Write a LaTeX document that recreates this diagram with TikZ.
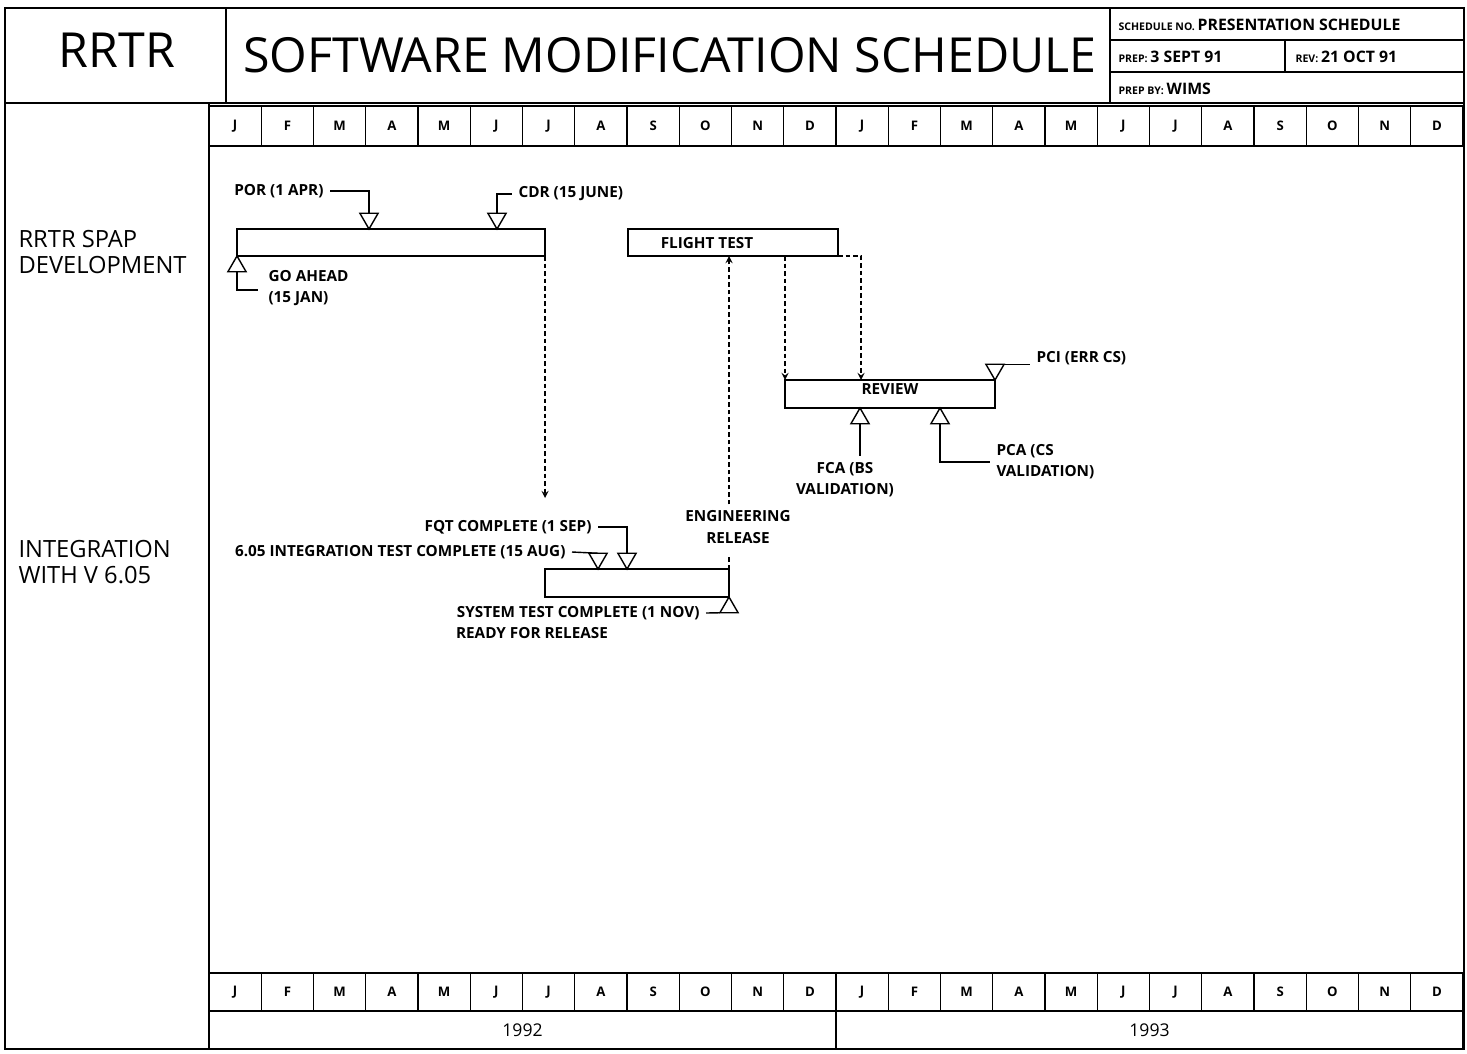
\documentclass[tikz,border=0pt]{standalone}
\usepackage{fontspec}
\setmainfont{Open Sans}
\usetikzlibrary{shapes.geometric,fit}

\begin{document}
\begin{tikzpicture}[x=0.2mm,y=-0.2mm,line width=0.8pt,>=stealth,
    bar/.style={draw,inner sep=0pt,outer sep=0pt},
    msdown/.style={draw,fill=white,regular polygon,regular polygon sides=3,shape border rotate=180,minimum size=4.2mm,inner sep=0pt,outer sep=0pt,anchor=corner 1},
    msup/.style={draw,fill=white,regular polygon,regular polygon sides=3,minimum size=4.2mm,inner sep=0pt,outer sep=0pt,anchor=corner 1},
    note/.style={font=\bfseries\fontsize{8.7}{12}\selectfont},
    dashline/.style={dash pattern=on 0.9mm off 0.6mm},
    month/.style={font=\bfseries\fontsize{7.5}{8}\selectfont}]
        \useasboundingbox (0,0) rectangle (1467,1053);

        % frame and header
        \draw [line width=1pt] (5,8) rectangle (1464,1049);
        \draw [line width=1pt] (5,103) -- (1464,103);
        \draw [line width=1pt] (226,8) -- (226,103);
        \draw [line width=1pt] (1110,8) -- (1110,103);
        \draw (1110,40) -- (1464,40);
        \draw (1110,72) -- (1464,72);
        \draw (1285,40) -- (1285,72);
        \draw [line width=1pt] (209,103) -- (209,1049);
        \node (rrtr) at (117,50) {\fontsize{27.5}{30}\selectfont RRTR};
        \node (title) at (670,55) {\fontsize{27.5}{30}\selectfont SOFTWARE MODIFICATION SCHEDULE};
        \node[anchor=west] (schno) at (1112,25) {\fontsize{6}{7}\selectfont\bfseries SCHEDULE NO. \fontsize{9}{10}\selectfont PRESENTATION SCHEDULE};
        \node[anchor=west] (prep) at (1112,57) {\fontsize{6}{7}\selectfont\bfseries PREP: \fontsize{9}{10}\selectfont 3 SEPT 91};
        \node[anchor=west] (rev) at (1289,57) {\fontsize{6}{7}\selectfont\bfseries REV: \fontsize{9}{10}\selectfont 21 OCT 91};
        \node[anchor=west] (prepby) at (1112,89) {\fontsize{6}{7}\selectfont\bfseries PREP BY: \fontsize{9}{10}\selectfont WIMS};

        % row labels
        \node[anchor=west,align=left,font=\fontsize{13.5}{14.5}\selectfont] (spaplbl) at (12,252) {RRTR SPAP\\DEVELOPMENT};
        \node[anchor=west,align=left,font=\fontsize{13.5}{14.5}\selectfont] (intlbl) at (12,562) {INTEGRATION\\WITH V 6.05};

        % months, top
        \draw [month] (209,106) rectangle ++(52.25,40) node[midway] (t1) {J};
        \draw [month] (261.25,106) rectangle ++(52.25,40) node[midway] (t2) {F};
        \draw [month] (313.5,106) rectangle ++(52.25,40) node[midway] (t3) {M};
        \draw [month] (365.75,106) rectangle ++(52.25,40) node[midway] (t4) {A};
        \draw [month] (418,106) rectangle ++(52.25,40) node[midway] (t5) {M};
        \draw [month] (470.25,106) rectangle ++(52.25,40) node[midway] (t6) {J};
        \draw [month] (522.5,106) rectangle ++(52.25,40) node[midway] (t7) {J};
        \draw [month] (574.75,106) rectangle ++(52.25,40) node[midway] (t8) {A};
        \draw [month] (627,106) rectangle ++(52.25,40) node[midway] (t9) {S};
        \draw [month] (679.25,106) rectangle ++(52.25,40) node[midway] (t10) {O};
        \draw [month] (731.5,106) rectangle ++(52.25,40) node[midway] (t11) {N};
        \draw [month] (783.75,106) rectangle ++(52.25,40) node[midway] (t12) {D};
        \draw [month] (836,106) rectangle ++(52.25,40) node[midway] (t13) {J};
        \draw [month] (888.25,106) rectangle ++(52.25,40) node[midway] (t14) {F};
        \draw [month] (940.5,106) rectangle ++(52.25,40) node[midway] (t15) {M};
        \draw [month] (992.75,106) rectangle ++(52.25,40) node[midway] (t16) {A};
        \draw [month] (1045,106) rectangle ++(52.25,40) node[midway] (t17) {M};
        \draw [month] (1097.25,106) rectangle ++(52.25,40) node[midway] (t18) {J};
        \draw [month] (1149.5,106) rectangle ++(52.25,40) node[midway] (t19) {J};
        \draw [month] (1201.75,106) rectangle ++(52.25,40) node[midway] (t20) {A};
        \draw [month] (1254,106) rectangle ++(52.25,40) node[midway] (t21) {S};
        \draw [month] (1306.25,106) rectangle ++(52.25,40) node[midway] (t22) {O};
        \draw [month] (1358.5,106) rectangle ++(52.25,40) node[midway] (t23) {N};
        \draw [month] (1410.75,106) rectangle ++(52.25,40) node[midway] (t24) {D};

        % months, bottom
        \draw [month] (209,973) rectangle ++(52.25,38) node[midway] (b1) {J};
        \draw [month] (261.25,973) rectangle ++(52.25,38) node[midway] (b2) {F};
        \draw [month] (313.5,973) rectangle ++(52.25,38) node[midway] (b3) {M};
        \draw [month] (365.75,973) rectangle ++(52.25,38) node[midway] (b4) {A};
        \draw [month] (418,973) rectangle ++(52.25,38) node[midway] (b5) {M};
        \draw [month] (470.25,973) rectangle ++(52.25,38) node[midway] (b6) {J};
        \draw [month] (522.5,973) rectangle ++(52.25,38) node[midway] (b7) {J};
        \draw [month] (574.75,973) rectangle ++(52.25,38) node[midway] (b8) {A};
        \draw [month] (627,973) rectangle ++(52.25,38) node[midway] (b9) {S};
        \draw [month] (679.25,973) rectangle ++(52.25,38) node[midway] (b10) {O};
        \draw [month] (731.5,973) rectangle ++(52.25,38) node[midway] (b11) {N};
        \draw [month] (783.75,973) rectangle ++(52.25,38) node[midway] (b12) {D};
        \draw [month] (836,973) rectangle ++(52.25,38) node[midway] (b13) {J};
        \draw [month] (888.25,973) rectangle ++(52.25,38) node[midway] (b14) {F};
        \draw [month] (940.5,973) rectangle ++(52.25,38) node[midway] (b15) {M};
        \draw [month] (992.75,973) rectangle ++(52.25,38) node[midway] (b16) {A};
        \draw [month] (1045,973) rectangle ++(52.25,38) node[midway] (b17) {M};
        \draw [month] (1097.25,973) rectangle ++(52.25,38) node[midway] (b18) {J};
        \draw [month] (1149.5,973) rectangle ++(52.25,38) node[midway] (b19) {J};
        \draw [month] (1201.75,973) rectangle ++(52.25,38) node[midway] (b20) {A};
        \draw [month] (1254,973) rectangle ++(52.25,38) node[midway] (b21) {S};
        \draw [month] (1306.25,973) rectangle ++(52.25,38) node[midway] (b22) {O};
        \draw [month] (1358.5,973) rectangle ++(52.25,38) node[midway] (b23) {N};
        \draw [month] (1410.75,973) rectangle ++(52.25,38) node[midway] (b24) {D};
        \draw [font=\fontsize{10}{12}\selectfont] (209,1011) rectangle (836,1049) node[midway] (y92) {1992};
        \draw [font=\fontsize{10}{12}\selectfont] (836,1011) rectangle (1463,1049) node[midway] (y93) {1993};

        % RRTR SPAP development
        \node[bar,fit={(237,229) (545,256)}] (spap) {};
        \node[msup] (goa) at (237,256) {};
        \node[msdown] (por) at (369,229) {};
        \node[msdown] (cdr) at (497,229) {};
        \node[note,anchor=east] (porlbl) at (330,191) {POR (1 APR)};
        \node[note,anchor=west] (cdrlbl) at (512,194) {CDR (15 JUNE)};
        \node[note,anchor=north west,align=left] (goalbl) at (262,264) {GO AHEAD\\(15 JAN)};
        \coordinate (gocrn) at (258,290);
        \draw (por.side 2) |- (porlbl.east);
        \draw (cdr.side 2) |- (cdrlbl.west);
        \draw (goa.side 2) |- (gocrn);

        \node[bar,fit={(628,229) (838,256)}] (ft) {};
        \node[note] (ftlbl) at (707,243) {FLIGHT TEST};

        % review
        \node[bar,fit={(785,380) (995,408)},note] (review) {REVIEW};
        \node[msdown] (pci) at (995,380) {};
        \node[msup] (fca) at (860,408) {};
        \node[msup] (pca) at (940,408) {};
        \node[note,anchor=west] (pcilbl) at (1030,358) {PCI (ERR CS)};
        \node[note,anchor=north,align=center] (fcalbl) at (845,456) {FCA (BS\\VALIDATION)};
        \node[note,anchor=west,align=left] (pcalbl) at (990,462) {PCA (CS\\VALIDATION)};
        \draw (pci.corner 2) -- (pci.corner 2 -| pcilbl.west);
        \draw (fca.side 2) -- (fca.side 2 |- fcalbl.north);
        \draw (pca.side 2) |- (pcalbl.west);
        \coordinate (rv2) at (861,380);
        \draw [dashline,->] (review.west |- ft.south) -- (review.north west);
        \draw [dashline,->] (ft.south east) -| (rv2);

        % integration with V 6.05
        \node[bar,fit={(545,569) (729,597)}] (intg) {};
        \node[msdown] (itc) at (598,569) {};
        \node[msdown] (fqt) at (627,569) {};
        \node[msup] (sys) at (729,597) {};
        \node[note,anchor=east] (itlbl) at (572,552) {6.05 INTEGRATION TEST COMPLETE (15 AUG)};
        \node[note,anchor=east] (fqtlbl) at (598,527) {FQT COMPLETE (1 SEP)};
        \node[note,anchor=east] (syslbl) at (706,613) {SYSTEM TEST COMPLETE (1 NOV)};
        \node[note,anchor=north west,inner sep=0pt] (rdylbl) at ([xshift=1mm]syslbl.south west) {READY FOR RELEASE};
        \node[note,align=center] (erlbl) at (738,527) {ENGINEERING\\RELEASE};
        \draw (itlbl.east) -- (itc.side 2);
        \draw (fqtlbl.east) -| (fqt.side 2);
        \draw (syslbl.east) -- (sys.corner 2);
        \coordinate (fqtend) at (545,498);
        \draw [dashline,->] (spap.south east) -- (fqtend);
        \draw [dashline,->] (erlbl.north -| intg.east) -- (ft.south -| intg.east);
        \draw [dashline] (intg.north east) -- ++(0,-12);
    \end{tikzpicture}
\end{document}
